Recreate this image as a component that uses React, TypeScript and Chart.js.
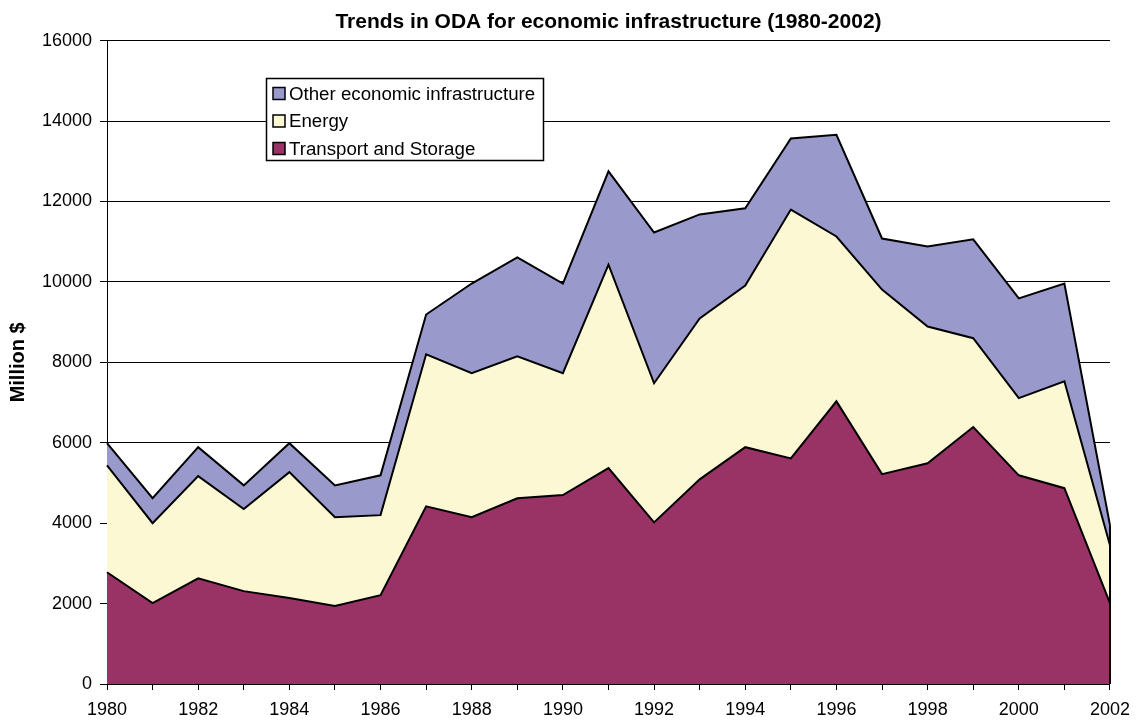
import React, { useEffect, useRef } from "react";
import { Chart, registerables } from "chart.js";

Chart.register(...registerables);

const years = [
  "1980", "1981", "1982", "1983", "1984", "1985", "1986", "1987", "1988", "1989", "1990",
  "1991", "1992", "1993", "1994", "1995", "1996", "1997", "1998", "1999", "2000", "2001", "2002",
];
const transport = [
  2780, 2010, 2630, 2310, 2140, 1940, 2210, 4420, 4150, 4620, 4700,
  5370, 4020, 5090, 5890, 5610, 7030, 5220, 5490, 6390, 5190, 4870, 2010,
];
const energy = [
  2660, 1990, 2540, 2040, 3130, 2210, 1990, 3780, 3580, 3530, 3030,
  5060, 3460, 4000, 4020, 6190, 4100, 4590, 3400, 2210, 1920, 2660, 1440,
];
const other = [
  550, 620, 720, 590, 720, 790, 990, 990, 2230, 2460, 2230,
  2320, 3750, 2590, 1920, 1770, 2530, 1270, 1990, 2460, 2480, 2430, 500,
];
const seriesNames = ["Transport and Storage", "Energy", "Other economic infrastructure"];
const seriesColors = ["#993366", "#FBF8D3", "#9999CC"];
const titleText = "Trends in ODA for economic infrastructure (1980-2002)";
const yTitle = "Million $";

const FONT = "'Liberation Sans', Arial, Helvetica, sans-serif";

const legendPlugin = {
  id: "boxLegend",
  afterDraw(chart: any) {
    const ctx = chart.ctx;
    const x0 = 266.5, y0 = 78.5, w = 277, h = 82;
    ctx.save();
    ctx.fillStyle = "#ffffff";
    ctx.fillRect(x0, y0, w, h);
    ctx.strokeStyle = "#000";
    ctx.lineWidth = 1.5;
    ctx.strokeRect(x0, y0, w, h);
    ctx.font = "18.7px " + FONT;
    ctx.textBaseline = "middle";
    const order = [2, 1, 0];
    order.forEach((di, i) => {
      const cy = 93.5 + i * 27.5;
      ctx.fillStyle = seriesColors[di];
      ctx.fillRect(273, cy - 6, 12, 12);
      ctx.strokeStyle = "#000";
      ctx.lineWidth = 1.5;
      ctx.strokeRect(273, cy - 6, 12, 12);
      ctx.fillStyle = "#000";
      ctx.fillText(seriesNames[di], 289, cy + 1);
    });
    ctx.restore();
  },
};

const edgePlugin = {
  id: "rightEdge",
  afterDatasetsDraw(chart: any) {
    const xs = chart.scales.x;
    const ys = chart.scales.y;
    const last = years.length - 1;
    const total = transport[last] + energy[last] + other[last];
    const x = xs.getPixelForValue(last);
    const ctx = chart.ctx;
    ctx.save();
    ctx.strokeStyle = "#000";
    ctx.lineWidth = 2;
    ctx.beginPath();
    ctx.moveTo(x, ys.getPixelForValue(0));
    ctx.lineTo(x, ys.getPixelForValue(total));
    ctx.stroke();
    ctx.restore();
  },
};

export default function App() {
  const ref = useRef<HTMLCanvasElement>(null);
  useEffect(() => {
    if (!ref.current) return;
    const data = [transport, energy, other];
    const chart = new Chart(ref.current, {
      type: "line",
      data: {
        labels: years,
        datasets: data.map((d, i) => ({
          label: seriesNames[i],
          data: d,
          backgroundColor: seriesColors[i],
          borderColor: "#000",
          borderWidth: 2,
          pointRadius: 0,
          tension: 0,
          fill: i === 0 ? "origin" : "-1",
        })),
      },
      options: {
        animation: false,
        responsive: false,
        layout: { padding: { left: 0, right: 28, top: 0, bottom: 0 } },
        plugins: {
          legend: { display: false },
          tooltip: { enabled: false },
          title: {
            display: true,
            text: titleText,
            fullSize: false,
            color: "#000",
            font: { family: FONT, size: 21, weight: "bold" },
            padding: { top: 10, bottom: 5.5 },
          },
        },
        scales: {
          x: {
            type: "category",
            offset: false,
            afterFit: (s: any) => {
              s.height = 38;
            },
            grid: { display: true, drawOnChartArea: false, drawTicks: true, tickLength: 6, color: "#000" },
            border: { color: "#000", width: 1 },
            ticks: {
              autoSkip: false,
              maxRotation: 0,
              color: "#000",
              font: { family: FONT, size: 18 },
              padding: 9,
              callback: (_v: any, idx: number) => (idx % 2 === 0 ? years[idx] : ""),
            },
          },
          y: {
            stacked: true,
            min: 0,
            max: 16000,
            afterFit: (s: any) => {
              s.width = 107;
            },
            grid: { color: "#000", lineWidth: 1, tickLength: 7 },
            border: { color: "#000", width: 1 },
            ticks: {
              stepSize: 2000,
              color: "#000",
              font: { family: FONT, size: 18 },
              padding: 8,
              callback: (v: any) => String(v),
            },
            title: {
              display: true,
              text: yTitle,
              color: "#000",
              font: { family: FONT, size: 20, weight: "bold" },
              padding: { top: 6, bottom: 0 },
            },
          },
        },
      },
      plugins: [edgePlugin, legendPlugin],
    });
    return () => chart.destroy();
  }, []);
  return (
    <div style={{ position: "absolute", left: 0, top: 0, width: 1139, height: 722, background: "#fff" }}>
      <canvas ref={ref} width={1139} height={722} style={{ width: 1139, height: 722 }} />
    </div>
  );
}
